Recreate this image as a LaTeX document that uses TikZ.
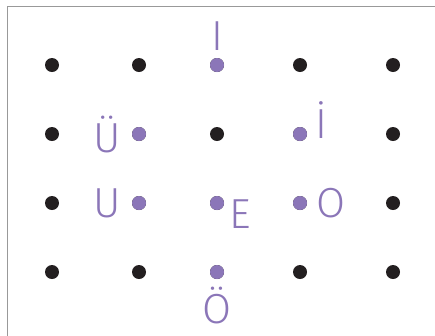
\documentclass[tikz,border=0pt]{standalone}
\usepackage{fontspec}
\setmainfont{Fira Sans}[UprightFont=* Light]
\usetikzlibrary{positioning}
\definecolor{vowel}{HTML}{8B76B8}
\definecolor{dotblack}{HTML}{231F20}
\newcommand{\vowelfont}{\fontsize{42bp}{42bp}\selectfont}

\begin{document}
\begin{tikzpicture}[
    x=1bp, y=-1bp,
    dot/.style={circle, fill=dotblack, inner sep=0pt, minimum size=14bp},
    vdot/.style={dot, fill=vowel},
    letter/.style={text=vowel, font=\vowelfont, inner sep=0pt},
]
\useasboundingbox (0,0) rectangle (435,335);

% Frame
\draw[gray!80, line width=1bp] (7,345) -- (7,6) -- (445,6);

% Grid of dots
\foreach \c/\x in {1/52, 2/139, 3/217, 4/300, 5/393}
  \foreach \r/\y in {1/65, 2/134, 3/203, 4/272}
    \node[dot] (d\r\c) at (\x,\y) {};

% Vowel dots
\node[vdot] (v13) at (d13) {};
\node[vdot] (v22) at (d22) {};
\node[vdot] (v24) at (d24) {};
\node[vdot] (v32) at (d32) {};
\node[vdot] (v33) at (d33) {};
\node[vdot] (v34) at (d34) {};
\node[vdot] (v43) at (d43) {};

% Vowel letters
\node[letter, above=7bp of v13] (li) {I};
\node[letter, left=11bp of v22] (lue) {Ü};
\node[letter, left=11bp of v32] (lu) {U};
\node[letter, anchor=north west] (le) at ([xshift=5bp, yshift=3bp]v33.east) {E};
\node[letter, right=9bp of v34] (lo) {O};
\node[letter, anchor=base west] (lidot) at ([xshift=8bp, yshift=-4bp]v24.east) {İ};
\node[letter, below=8bp of v43] (loe) {Ö};

\end{tikzpicture}
\end{document}
